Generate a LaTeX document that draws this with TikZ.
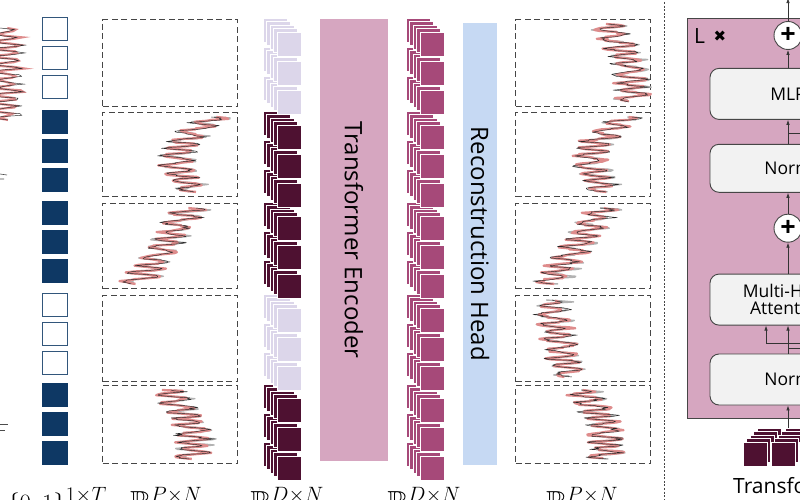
\documentclass[tikz,border=0pt]{standalone}
\usepackage{amssymb}
\usepackage[no-math]{fontspec}
\setmainfont{Open Sans}
\newfontfamily\symfont{DejaVu Sans}
\usetikzlibrary{positioning,arrows.meta,calc}

\definecolor{masknavy}{RGB}{14,56,100}
\definecolor{tokdark}{RGB}{78,17,49}
\definecolor{toklight}{RGB}{220,214,234}
\definecolor{tokout}{RGB}{166,73,121}
\definecolor{encpink}{RGB}{214,166,192}
\definecolor{headblue}{RGB}{198,217,243}
\definecolor{sigred}{RGB}{222,140,140}
\definecolor{framegray}{RGB}{70,70,70}

\tikzset{
  patchbox/.style={draw=framegray, dash pattern=on 6pt off 3.5pt, line width=1.4pt,
    minimum width=135pt, inner sep=0pt},
  maskon/.style={fill=masknavy, draw=masknavy, line width=0.8pt},
  maskoff/.style={fill=white, draw=masknavy!85, line width=1.1pt},
  barbox/.style={rotate=-90, inner sep=0pt, font=\fontsize{24}{27}\selectfont},
  blockbox/.style={draw=framegray, fill=gray!10, rounded corners=9pt, line width=0.9pt,
    minimum width=156pt, inner sep=0pt, align=center, font=\fontsize{17.5}{17}\selectfont},
  addcirc/.style={circle, draw=framegray, fill=white, line width=0.9pt, minimum size=28pt,
    inner sep=0pt, font=\fontsize{27}{27}\selectfont\bfseries},
  arr/.style={-{Latex[length=5pt,width=3.5pt]}, line width=0.7pt, draw=black!80},
  plain/.style={line width=0.7pt, draw=black!80},
  dimlabel/.style={anchor=base, inner sep=0pt, font=\fontsize{29}{32}\selectfont},
}

% #1 box left, #2 box top, #3 box height, #4/#5/#6 centre of the trace at top/middle/bottom
\newcommand{\patchsignal}[6]{%
  \draw[gray!60, line width=1.4pt, line join=round]
    plot[domain=0:1, samples=80]
    ({#1+2+(#4)*(1-\x)*(1-2*\x)+4*(#5)*\x*(1-\x)+(#6)*\x*(2*\x-1)+14*sin(3240*\x+50*sin(900*\x))+7*rand},
     {#2+5+(#3-9)*\x});
  \draw[sigred, line width=2.3pt, line join=round]
    plot[domain=0:1, samples=80]
    ({#1+(#4)*(1-\x)*(1-2*\x)+4*(#5)*\x*(1-\x)+(#6)*\x*(2*\x-1)+14*sin(3240*\x+50*sin(900*\x))+6*rand},
     {#2+5+(#3-9)*\x});
  \draw[black!85, line width=0.45pt, line join=round]
    plot[domain=0:1, samples=80]
    ({#1+(#4)*(1-\x)*(1-2*\x)+4*(#5)*\x*(1-\x)+(#6)*\x*(2*\x-1)+14*sin(3240*\x+50*sin(900*\x))+7*rand},
     {#2+5+(#3-9)*\x});
}

% #1 x of front square, #2 y of front square, #3 colour, #4 side the layers go to (-1 / 1)
\newcommand{\tokstack}[4]{%
  \foreach \l in {4,3,2,1,0}{
    \filldraw[fill=#3, draw=white, line width=0.5pt]
      ({#1+#4*3.5*\l},{#2-3.5*\l}) rectangle ++(24,24);
  }%
}

\begin{document}
\begin{tikzpicture}[x=1pt, y=-1pt]
  \useasboundingbox (0,0) rectangle (800,500);
  \clip (0,0) rectangle (800,500);
  \pgfmathsetseed{7}

  % raw series, cut at the left
  \draw[sigred, line width=2.2pt] plot[domain=0:1, samples=60] ({6+13*sin(4320*\x)+6*rand},{28+92*\x});
  \draw[black!85, line width=0.45pt] plot[domain=0:1, samples=60] ({6+13*sin(4320*\x)+7*rand},{28+92*\x});
  \draw[black!70, line width=0.6pt] (0,174) -- (7,175) (0,179) -- (4,179);
  \draw[black!70, line width=0.6pt] (0,424) -- (8,424) (0,430) -- (5,430);

  % mask
  \foreach \g/\st [count=\gi] in {19/maskoff,112/maskon,203/maskon,295/maskoff,385/maskon}
    \foreach \k in {0,1,2}
      \node[\st, minimum width=25pt, minimum height=23pt, inner sep=0pt, anchor=north west]
        (m\gi\k) at (42,{\g-2+29*\k}) {};

  % patches in / out
  \foreach \top/\h [count=\i] in {19/87,112/84,203/85,295/86,385/78} {
    \node[patchbox, minimum height=\h, anchor=north west] (pin\i) at (102,\top) {};
    \node[patchbox, minimum height=\h, anchor=north west] (pout\i) at (515,\top) {};
  }
  \patchsignal{102}{112}{84}{112}{76}{92}
  \patchsignal{102}{203}{85}{88}{62}{35}
  \patchsignal{102}{385}{78}{64}{88}{90}
  \patchsignal{515}{19}{87}{88}{112}{116}
  \patchsignal{515}{112}{84}{112}{76}{92}
  \patchsignal{515}{203}{85}{88}{62}{35}
  \patchsignal{515}{295}{86}{36}{43}{55}
  \patchsignal{515}{385}{78}{64}{88}{90}

  % token embeddings
  \foreach \g/\c in {385/tokdark,295/toklight,203/tokdark,112/tokdark,19/toklight}{
    \foreach \k in {2,1,0}{\tokstack{277}{\g+13+29*\k}{\c}{-1}}
  }
  \foreach \g in {385,295,203,112,19}{
    \foreach \k in {2,1,0}{\tokstack{420}{\g+13+29*\k}{tokout}{-1}}
  }

  % encoder and head
  \node[barbox, fill=encpink, minimum width=442pt, minimum height=68pt] (enc) at (354,240) {Transformer Encoder};
  \node[barbox, fill=headblue, minimum width=442pt, minimum height=34pt] (head) at (480,244) {Reconstruction Head};

  % separator
  \draw[framegray, line width=0.8pt, dash pattern=on 2pt off 1.6pt] (664,2) -- (664,500);

  % encoder layer
  \node[draw=framegray, fill=encpink, line width=0.9pt, minimum width=202pt, minimum height=400pt,
    inner sep=0pt, anchor=north west] (layer) at (687,18) {};
  \node[anchor=base west, inner sep=0pt, font=\fontsize{21}{21}\selectfont] (lrep) at (694,44) {L};
  \node[right=8pt of lrep, inner sep=0pt, font=\symfont\fontsize{15}{15}\selectfont] (times) {✖};

  \node[blockbox, minimum height=51pt] (norma) at (788,379.5) {Norm};
  \node[blockbox, minimum height=51pt, above=28pt of norma] (mha) {Multi-Head\\Attention};
  \node[addcirc, above=31pt of mha] (plusa) {+};
  \node[blockbox, minimum height=48pt, above=21pt of plusa] (normb) {Norm};
  \node[blockbox, minimum height=51pt, above=24pt of normb] (mlp) {MLP};
  \node[addcirc, above=18pt of mlp] (plusb) {+};
  \coordinate[above=23pt of plusb] (out);

  \coordinate (cubetop) at (788,428);
  \coordinate (split) at (788,343);
  \coordinate (skip) at (788,133);

  \draw[arr] (cubetop) -- (norma.south);
  \draw[plain] (norma.north) -- (split);
  \draw[arr] (split) -- (mha.south);
  \draw[arr] (split) -| ([xshift=-22pt]mha.south);
  \draw[plain] (split) -- ++(40,0);
  \draw[plain] ($(split)+(0,5)$) -- ++(40,0);
  \draw[arr] (mha.north) -- (plusa.south);
  \draw[arr] (plusa.north) -- (normb.south);
  \draw[arr] (normb.north) -- (mlp.south);
  \draw[plain] (skip) -- ++(40,0);
  \draw[arr] (mlp.north) -- (plusb.south);
  \draw[arr] (plusb.north) -- (out);

  % input tokens of the layer
  \foreach \cx in {743,771,799}{\tokstack{\cx}{442}{tokdark}{1}}
  \node[anchor=base west, inner sep=0pt, font=\fontsize{21}{24}\selectfont] (enclabel) at (733,493) {Transformer Encoder};

  % shapes
  \node[dimlabel] (lblmask) at (57,511) {$\{0,1\}^{1\times T}$};
  \node[dimlabel] (lblin) at (166,511) {$\mathbb{R}^{P\times N}$};
  \node[dimlabel] (lblemb) at (287,511) {$\mathbb{R}^{D\times N}$};
  \node[dimlabel] (lblrep) at (424,511) {$\mathbb{R}^{D\times N}$};
  \node[dimlabel] (lblout) at (582,511) {$\mathbb{R}^{P\times N}$};
\end{tikzpicture}
\end{document}
